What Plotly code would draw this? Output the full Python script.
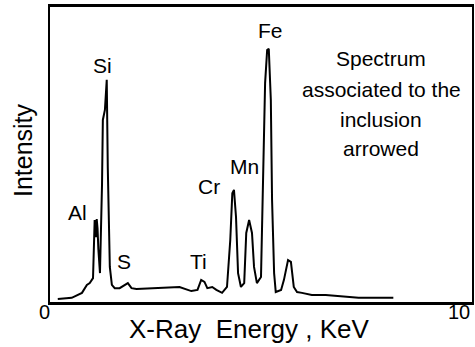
import plotly.graph_objects as go

# Spectrum trace (energy in keV, intensity in arbitrary units 0-100)
energy = [0.19, 0.53, 0.78, 0.90, 0.97, 1.05, 1.09, 1.12, 1.14, 1.16, 1.18, 1.22, 1.27, 1.29, 1.34, 1.385,
          1.41, 1.46, 1.51, 1.58, 1.70, 1.82, 1.90, 1.99, 2.11, 3.16, 3.45, 3.60, 3.69, 3.77,
          3.84, 3.96, 4.06, 4.20, 4.32, 4.40, 4.45, 4.49, 4.54, 4.59, 4.66, 4.74, 4.79, 4.86,
          4.93, 4.98, 5.05, 5.15, 5.20, 5.25, 5.30, 5.34, 5.39, 5.42, 5.47, 5.51, 5.64, 5.71,
          5.81, 5.88, 5.95, 6.03, 6.15, 6.39, 6.73, 7.12, 7.53, 8.09, 8.38]
intensity = [1.0, 1.4, 3.1, 5.8, 6.4, 8.1, 27.8, 22.0, 28.1, 25.0, 18.0, 9.8, 40.0, 61.7, 65.1, 75.3,
             45.8, 11.9, 5.8, 4.7, 4.7, 5.8, 6.4, 4.7, 4.4, 5.1, 3.7, 4.1, 7.5, 6.8,
             4.7, 5.1, 4.1, 3.1, 5.1, 21.0, 36.9, 38.0, 28.8, 9.8, 5.1, 6.4, 23.4, 27.8,
             23.4, 11.9, 6.4, 8.5, 45.8, 74.2, 85.4, 85.8, 68.5, 34.6, 9.8, 3.4, 4.1, 7.5,
             14.2, 13.6, 5.1, 3.4, 3.1, 2.4, 2.4, 2.0, 1.4, 1.4, 1.4]

# Element labels and their positions (keV, intensity)
elements = ["Al", "Si", "S", "Ti", "Cr", "Mn", "Fe"]
element_x = [0.66, 1.29, 1.80, 3.62, 3.89, 4.74, 5.39]
element_y = [30.5, 80.3, 13.6, 13.6, 39.0, 45.8, 92.2]

note_lines = ["Spectrum", "associated to the", "inclusion", "arrowed"]
note_x = 8.09
note_y = [82.4, 72.2, 62.0, 51.9]

x_tick_vals = [0, 10]
x_tick_text = ["0", "10"]

FONT = "Liberation Sans, Arial, sans-serif"

fig = go.Figure()
fig.add_trace(go.Scatter(x=energy, y=intensity, mode="lines",
                         line=dict(color="black", width=2), hoverinfo="skip"))

ann = []
for t, xv, yv in zip(elements, element_x, element_y):
    ann.append(dict(x=xv, y=yv, xref="x", yref="y", text=t, showarrow=False,
                    font=dict(family=FONT, size=21, color="black"),
                    xanchor="center", yanchor="middle"))
for t, yv in zip(note_lines, note_y):
    ann.append(dict(x=note_x, y=yv, xref="x", yref="y", text=t, showarrow=False,
                    font=dict(family=FONT, size=21, color="black"),
                    xanchor="center", yanchor="middle"))
# tick labels
for v, t, xs in zip(x_tick_vals, x_tick_text, [-6, -1]):
    ann.append(dict(x=v, y=0, xref="x", yref="paper", text=t, showarrow=False,
                    font=dict(family=FONT, size=20, color="black"),
                    xanchor="center", yanchor="middle", xshift=xs, yshift=-10))
# axis titles
ann.append(dict(x=4.86, y=0, xref="x", yref="paper", text="X-Ray&nbsp;&nbsp;Energy , KeV",
                showarrow=False, font=dict(family=FONT, size=26, color="black"),
                xanchor="center", yanchor="middle", yshift=-27))
ann.append(dict(x=0, y=51.5, xref="paper", yref="y", text="Intensity", textangle=-90,
                showarrow=False, font=dict(family=FONT, size=25, color="black"),
                xanchor="center", yanchor="middle", xshift=-27))

fig.update_layout(
    width=475, height=347,
    margin=dict(l=50, r=1, t=7, b=45),
    paper_bgcolor="white", plot_bgcolor="white",
    showlegend=False,
    annotations=ann,
    xaxis=dict(range=[0, 10.3], showgrid=False, zeroline=False, showticklabels=False,
               ticks="", showline=True, mirror=True, linecolor="black", linewidth=2.5),
    yaxis=dict(range=[0, 100], showgrid=False, zeroline=False, showticklabels=False,
               ticks="", showline=True, mirror=True, linecolor="black", linewidth=2),
)

fig.write_html("out.html")
